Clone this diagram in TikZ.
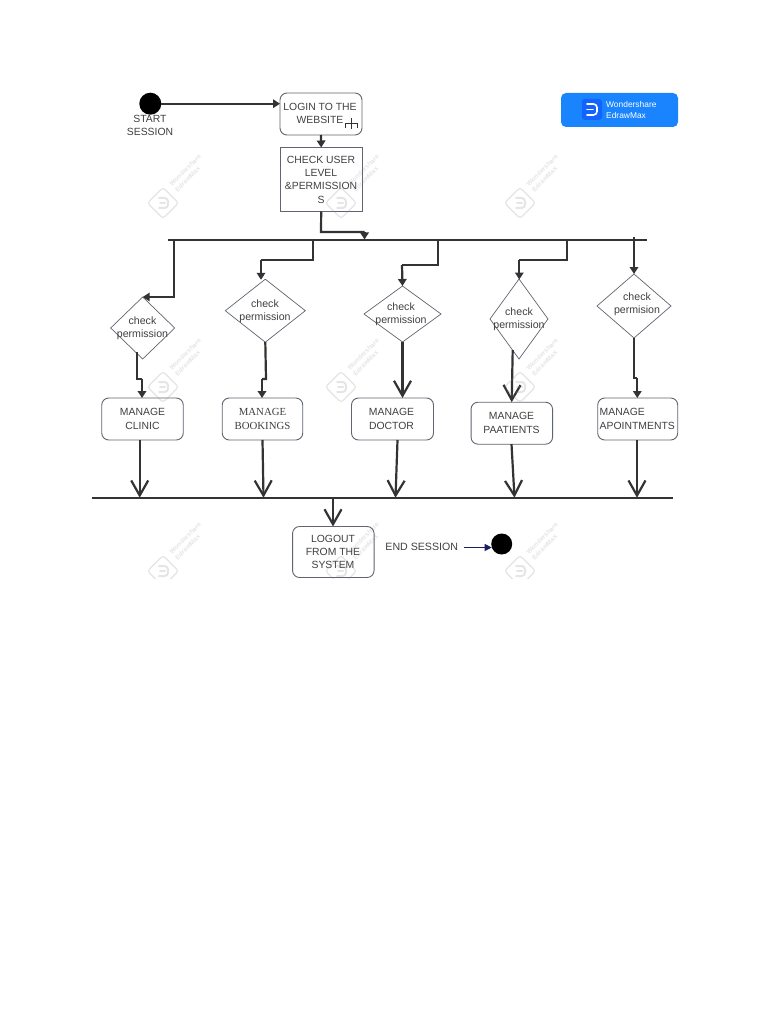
\documentclass[tikz,border=0pt]{standalone}
\usepackage{fontspec}
\setmainfont{Liberation Sans}
\newfontfamily\seriffam{Liberation Serif}
\usetikzlibrary{arrows.meta,shapes.geometric,calc}
\definecolor{ink}{HTML}{333333}
\definecolor{txt}{HTML}{404040}
\definecolor{edge}{HTML}{5F6670}
\definecolor{wm}{HTML}{8A8A8A}
\definecolor{logoblue}{HTML}{1A84FF}
\definecolor{navy}{HTML}{1B1F5E}
\tikzset{
  lbl/.style={font=\fontsize{10.4}{13.3}\selectfont,text=txt,align=center,inner sep=0pt},
  dlbl/.style={font=\fontsize{10.6}{13.3}\selectfont,text=txt,align=center,inner sep=0pt},
  sbox/.style={draw=edge,line width=.9pt,rounded corners=7pt,fill=white,inner sep=0pt,outer sep=0pt},
  pbox/.style={draw=edge,line width=.9pt,fill=white,inner sep=0pt,outer sep=0pt},
  dia/.style={draw=edge,line width=.7pt,shape=diamond,inner sep=0pt,outer sep=0pt,fill=white},
  dot/.style={circle,fill=black,inner sep=0pt,outer sep=0pt},
  bar/.style={fill=ink,inner sep=0pt,outer sep=0pt,minimum height=2.4pt},
  solidarrow/.style={draw=ink,line width=2.2pt,-{Triangle[length=7pt,width=8.5pt]}},
  openarrow/.style={draw=ink,line width=2.2pt,-{Straight Barb[length=15pt,width=17pt,line width=2.2pt]}},
  plain/.style={draw=ink,line width=2.2pt},
  wmark/.pic={
    \begin{scope}[opacity=.22]
    \draw[wm,line width=1.2pt,rounded corners=3pt,rotate=45] (-11,-11) rectangle (11,11);
    \draw[wm,line width=2pt,line cap=round,rounded corners=3.5pt] (-4,-5) -- (5,-5) -- (5,5) -- (-4,5);
    \draw[wm,line width=2pt,line cap=round] (-3,0) -- (2,0);
    \node[rotate=45,text=wm,font=\fontsize{6.5}{8}\selectfont\bfseries,align=left,inner sep=0pt] at (25,-30) {Wondershare\\EdrawMax};
    \end{scope}
  }
}
\begin{document}
\begin{tikzpicture}[x=1pt,y=-1pt]
\useasboundingbox (0,0) rectangle (768,1024);
\fill[white] (0,0) rectangle (768,1024);
% logo
\fill[logoblue,rounded corners=5pt] (561,93) -- (561,127) -- (678,127) -- (678,93) -- cycle;
\fill[logoblue!75!blue,rounded corners=3pt] (582,99) rectangle (602,120);
\draw[white,line width=1.6pt,line cap=round,rounded corners=3.5pt] (587,104) -- (597,104) -- (597,115) -- (587,115);
\draw[white,line width=1.6pt,line cap=round] (587,109.5) -- (593,109.5);
\node[anchor=west,text=white,align=left,inner sep=0pt,font=\fontsize{8.4}{10}\selectfont] (logotext) at (606,110) {Wondershare\\EdrawMax};
% bars
\node[bar,minimum width=479pt] (topbar) at (407.5,240) {};
\node[bar,minimum width=581pt] (botbar) at (382.5,497.7) {};
% top nodes
\node[dot,minimum size=22pt] (start) at (150.3,103.7) {};
\node[lbl] (startlbl) at (150,125.5) {START\\SESSION};
\node[sbox,minimum width=82pt,minimum height=42pt] (login) at (321,114) {};
\node[lbl] (logintxt) at (320,113.5) {LOGIN TO THE\\WEBSITE};
\draw[ink,line width=.6pt] (345,128) -- (345,123.5) -- (357,123.5) -- (357,128) (351,118) -- (351,129);
\node[pbox,minimum width=81.5pt,minimum height=64pt] (check) at (321.2,179.5) {};
\node[lbl] (checktxt) at (321,179.5) {CHECK USER\\LEVEL\\\&PERMISSION\\S};
% diamonds
\node[dia,minimum width=64pt,minimum height=62pt] (d1) at (142.7,328) {};
\node[dia,minimum width=80pt,minimum height=63pt] (d2) at (265.3,310.7) {};
\node[dia,minimum width=77pt,minimum height=56pt] (d3) at (402.5,314) {};
\node[dia,minimum width=58pt,minimum height=80pt] (d4) at (519,319) {};
\node[dia,minimum width=74pt,minimum height=64pt] (d5) at (634,306) {};
\node[dlbl] (d1t) at (142.5,328.5) {check\\permission};
\node[dlbl] (d2t) at (265,311) {check\\permission};
\node[dlbl] (d3t) at (401,314.5) {check\\permission};
\node[dlbl] (d4t) at (519,319.5) {check\\permission};
\node[dlbl] (d5t) at (637,304) {check\\permision};
% boxes
\node[sbox,minimum width=81.5pt,minimum height=42pt] (b1) at (142.5,419) {};
\node[sbox,minimum width=80.5pt,minimum height=42pt] (b2) at (262.5,419) {};
\node[sbox,minimum width=82pt,minimum height=42pt] (b3) at (392.5,419) {};
\node[sbox,minimum width=81.5pt,minimum height=42pt] (b4) at (511.8,423.2) {};
\node[sbox,minimum width=80pt,minimum height=42pt] (b5) at (637.7,419) {};
\node[lbl] (b1t) at (142.5,419) {MANAGE\\CLINIC};
\node[lbl,font=\seriffam\fontsize{10.8}{13.3}\selectfont] (b2t) at (262.5,419) {MANAGE\\BOOKINGS};
\node[lbl] (b3t) at (391.5,419) {MANAGE\\DOCTOR};
\node[lbl] (b4t) at (511.5,423) {MANAGE\\PAATIENTS};
\node[lbl,align=left,anchor=west] (b5t) at (599.5,419) {MANAGE\\APOINTMENTS};
% logout
\node[sbox,minimum width=81.5pt,minimum height=51pt] (logout) at (333.3,552) {};
\node[lbl] (logouttxt) at (333,552) {LOGOUT\\FROM THE\\SYSTEM};
\node[lbl,font=\fontsize{10.6}{13}\selectfont] (endlbl) at (421.7,547.3) {END SESSION};
\node[dot,minimum size=21pt] (endd) at (501.7,544) {};
% anchors on bars and shapes
\coordinate (c0) at (321,232);
\coordinate (c0e) at (364.5,239.5);
\foreach \n/\x in {t1/174,t2/313,t3/438.3,t4/566.7}{\coordinate (\n) at (\x,240);}
\coordinate (t5) at (634,237);
\foreach \n/\x/\y in {m2/261/260,m3/402/265,m4/519.3/260}{\coordinate (\n) at (\x,\y);}
\coordinate (a2) at (261,279.8);
\coordinate (a4) at (519.3,279.5);
\coordinate (s1) at (137.3,352);
\coordinate (s4) at (512.7,350);
\coordinate (e4) at (511.7,402.2);
\coordinate (k1) at (142,398);
\coordinate (k2) at (262,398);
\coordinate (k5) at (637.3,398);
% connectors
\draw[solidarrow] (start) -- (login.west |- start);
\draw[solidarrow] (login.south) -- (check.north);
\draw[plain] (check.south) -- (c0) -- (c0 -| c0e);
\draw[solidarrow] (c0 -| c0e) -- (c0e);
\draw[solidarrow] (t1) |- (d1.north);
\draw[plain] (t2) |- (m2);
\draw[solidarrow] (m2) -- (a2);
\draw[plain] (t3) |- (m3);
\draw[solidarrow] (m3) -- (d3.north);
\draw[plain] (t4) |- (m4);
\draw[solidarrow] (m4) -- (a4);
\draw[solidarrow] (t5) -- (d5.north);
\draw[plain] (s1) -- (137.3,379) -- (142,379);
\draw[solidarrow] (142,379) -- (k1);
\draw[plain] (d2.south) -- (266,379) -- (262,379);
\draw[solidarrow] (262,379) -- (k2);
\draw[openarrow] (d3.south) -- (b3.north -| d3.south);
\draw[openarrow] (s4) -- (e4);
\draw[plain] (d5.south) -- (634,378) -- (637.3,378);
\draw[solidarrow] (637.3,378) -- (k5);
\foreach \bx/\ex/\bn in {139.7/139.7/b1,262.5/263.5/b2,397.5/395.5/b3,511.5/514.5/b4,637/637/b5}{
  \draw[openarrow] (\bx,0 |- \bn.south) -- (\ex,497.7);
}
\coordinate (lt) at (333,497.7);
\draw[openarrow] (lt) -- (logout.north -| lt);
\coordinate (ns) at (464.3,547.5);
\draw[navy,line width=1.1pt,-{Triangle[length=7pt,width=7pt]}] (ns) -- (491.7,547.5);
% watermarks
\begin{scope}
\clip (0,0) rectangle (768,578);
\foreach \wy in {203,387,571}{\foreach \wx in {163,341,520}{
  \pic at (\wx,\wy) {wmark};
}}
\end{scope}
\end{tikzpicture}
\end{document}
